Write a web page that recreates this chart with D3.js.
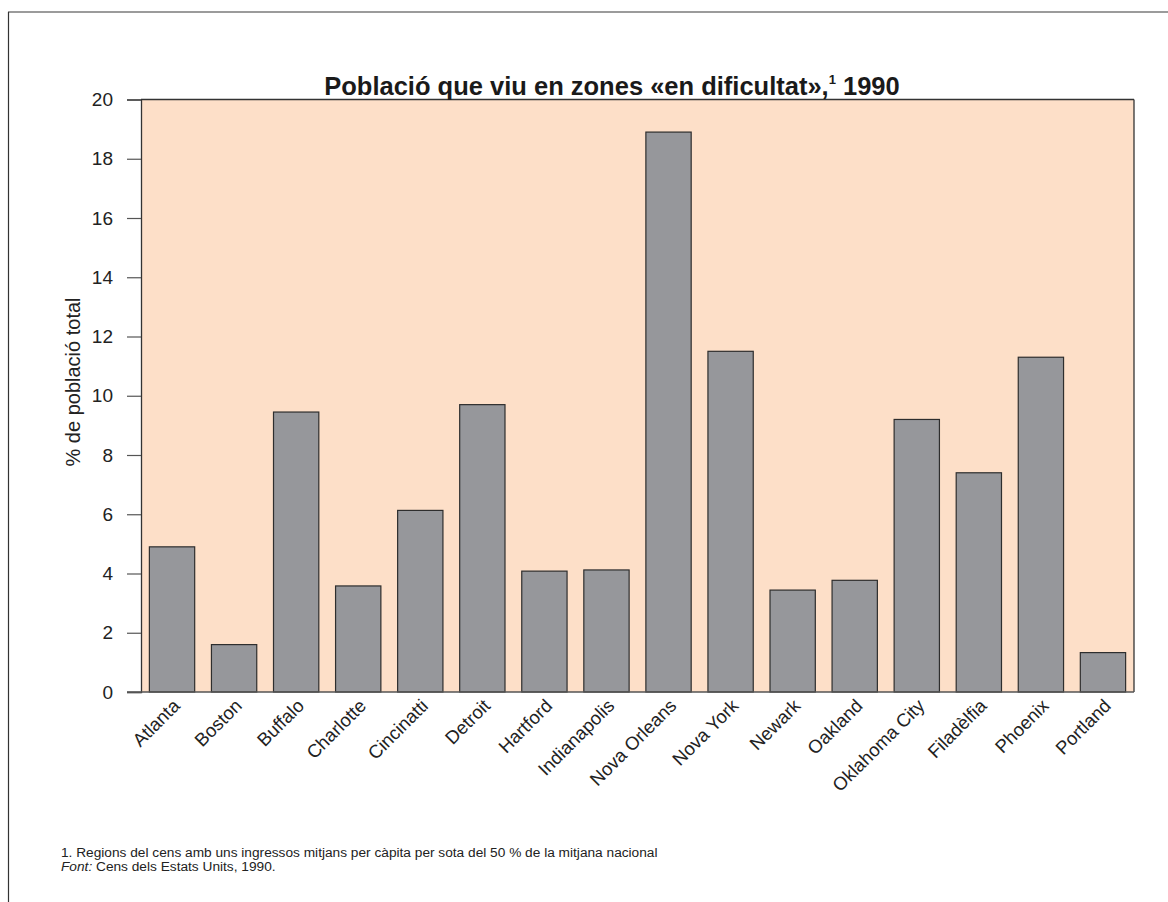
<!DOCTYPE html>
<html>
<head>
<meta charset="utf-8">
<script src="https://cdn.jsdelivr.net/npm/d3@7/dist/d3.min.js"></script>
<style>
  html, body { margin: 0; padding: 0; background: #fff; }
  svg { display: block; font-family: "Liberation Sans", Arial, Helvetica, sans-serif; }
</style>
</head>
<body>
<svg id="chart" width="1168" height="902"></svg>
<script>
const categories = ["Atlanta", "Boston", "Buffalo", "Charlotte", "Cincinatti", "Detroit", "Hartford", "Indianapolis", "Nova Orleans", "Nova York", "Newark", "Oakland", "Oklahoma City", "Filadèlfia", "Phoenix", "Portland"];
const values = [4.9, 1.6, 9.45, 3.58, 6.13, 9.7, 4.08, 4.12, 18.9, 11.5, 3.44, 3.77, 9.2, 7.4, 11.3, 1.33];
const yTicks = [0, 2, 4, 6, 8, 10, 12, 14, 16, 18, 20];
const titleText = "Població que viu en zones «en dificultat»,";
const titleSup = "1";
const titleYear = " 1990";
const yLabel = "% de població total";
const footnote = "1. Regions del cens amb uns ingressos mitjans per càpita per sota del 50 % de la mitjana nacional";
const sourceLabel = "Font:";
const sourceText = " Cens dels Estats Units, 1990.";

const svg = d3.select("#chart");
const W = 1168, H = 902;
const m = { left: 141, right: 1134, top: 99.5, bottom: 692 };

// outer frame (top and left)
svg.append("line").attr("x1", 8).attr("x2", W).attr("y1", 12).attr("y2", 12)
  .attr("stroke", "#7a7a7a").attr("stroke-width", 1.5);
svg.append("line").attr("x1", 8.5).attr("x2", 8.5).attr("y1", 12).attr("y2", H)
  .attr("stroke", "#333").attr("stroke-width", 1.2);

const x = d3.scaleBand().domain(categories).range([m.left, m.right]).paddingInner(0.27).paddingOuter(0.135);
const y = d3.scaleLinear().domain([0, 20]).range([m.bottom, m.top]);

// plot background
svg.append("rect").attr("x", m.left).attr("y", m.top)
  .attr("width", m.right - m.left).attr("height", m.bottom - m.top)
  .attr("fill", "#fddfc8");

// bars
svg.append("g").selectAll("rect").data(categories).join("rect")
  .attr("x", d => x(d))
  .attr("y", (d, i) => y(values[i]))
  .attr("width", x.bandwidth())
  .attr("height", (d, i) => y(0) - y(values[i]))
  .attr("fill", "#96979b")
  .attr("stroke", "#2e2e2e")
  .attr("stroke-width", 1.2);

// plot frame top & right
svg.append("line").attr("x1", m.left).attr("x2", m.right).attr("y1", m.top).attr("y2", m.top)
  .attr("stroke", "#333").attr("stroke-width", 1.3);
svg.append("line").attr("x1", m.right).attr("x2", m.right).attr("y1", m.top).attr("y2", m.bottom)
  .attr("stroke", "#333").attr("stroke-width", 1.3);

// y axis
const yAxis = svg.append("g").attr("transform", `translate(${m.left},0)`)
  .call(d3.axisLeft(y).tickValues(yTicks).tickSize(14).tickPadding(14).tickFormat(d3.format("d")));
yAxis.select(".domain").attr("stroke", "#333").attr("stroke-width", 1.3);
yAxis.selectAll(".tick line").attr("stroke", "#555").attr("stroke-width", 1.2);
yAxis.selectAll(".tick text").attr("fill", "#222").style("font-size", "19px")
  .style("font-family", "'Liberation Sans', Arial, sans-serif");

// bottom axis line
svg.append("line").attr("x1", m.left - 14).attr("x2", m.right).attr("y1", m.bottom).attr("y2", m.bottom)
  .attr("stroke", "#555").attr("stroke-width", 1.5);

// x axis labels
const xAxis = svg.append("g").attr("transform", `translate(0,${m.bottom})`)
  .call(d3.axisBottom(x).tickSize(0).tickPadding(0));
xAxis.select(".domain").remove();
xAxis.selectAll(".tick text")
  .attr("fill", "#222")
  .style("font-size", "18.5px")
  .style("font-family", "'Liberation Sans', Arial, sans-serif")
  .attr("text-anchor", "end")
  .attr("dy", "0")
  .attr("transform", "translate(9,15) rotate(-45)");

// y label
svg.append("text")
  .attr("transform", `translate(80,382) rotate(-90)`)
  .attr("text-anchor", "middle")
  .attr("fill", "#222")
  .style("font-size", "20px")
  .text(yLabel);

// title
const t = svg.append("text")
  .attr("x", 612).attr("y", 95)
  .attr("text-anchor", "middle")
  .attr("fill", "#1a1a1a")
  .style("font-size", "25.5px")
  .style("font-weight", "bold");
t.append("tspan").text(titleText);
t.append("tspan").attr("dy", -11).style("font-size", "13px").text(titleSup);
t.append("tspan").attr("dy", 11).text(titleYear);

// footnotes
svg.append("text").attr("x", 61).attr("y", 857).attr("fill", "#222")
  .style("font-size", "13.7px").text(footnote);
const s = svg.append("text").attr("x", 61).attr("y", 871).attr("fill", "#222")
  .style("font-size", "13.7px");
s.append("tspan").style("font-style", "italic").text(sourceLabel);
s.append("tspan").text(sourceText);
</script>
</body>
</html>
